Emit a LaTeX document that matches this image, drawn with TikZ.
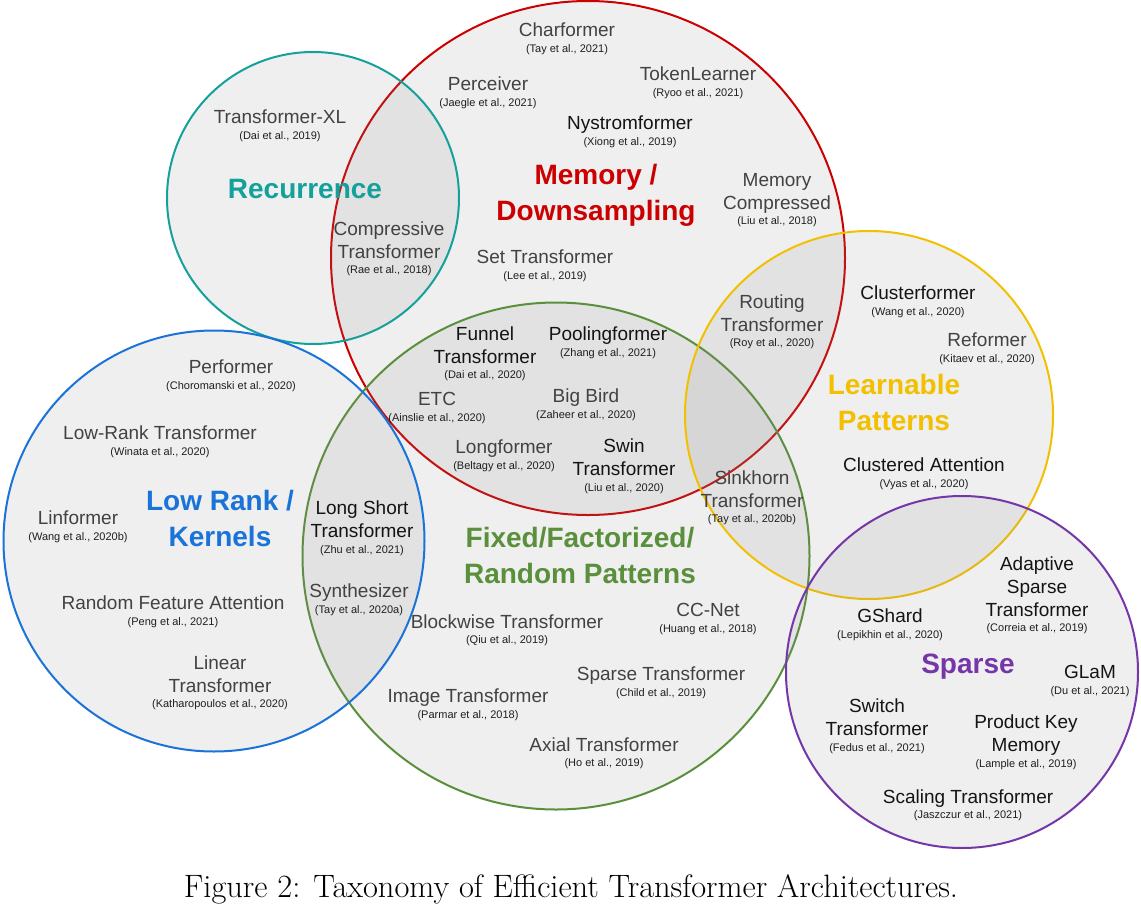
\documentclass[tikz,border=0pt]{standalone}
\usepackage{fontspec}
\newfontfamily\rob{Liberation Sans}
\newcommand{\citefont}{\fontsize{11}{13}\selectfont\color{black!88}}
\definecolor{shade}{RGB}{142,142,142}
\definecolor{recur}{HTML}{14A09B}
\definecolor{memory}{HTML}{CC0000}
\definecolor{lowrank}{HTML}{1A73D8}
\definecolor{fixed}{HTML}{5A8F3C}
\definecolor{learn}{HTML}{F2C000}
\definecolor{sparse}{HTML}{7436A8}

\begin{document}
\begin{tikzpicture}[x=1pt, y=-1pt,
	ring/.style={circle, inner sep=0pt, line width=2pt, fill=shade, fill opacity=0.133},
	paper/.style={align=center, inner sep=0pt, text=black!74, font=\rob\fontsize{19}{23}\selectfont},
	newer/.style={paper, text=black!92},
	catlabel/.style={align=center, inner sep=0pt, font=\rob\bfseries\fontsize{28}{36}\selectfont}]
	\fill[white] (0,0) rectangle (1141,910);
	\useasboundingbox (0,0) rectangle (1141,910);

	% the six families
	\node [ring, draw=memory, minimum size=514pt] (memory) at (588,258) {};
	\node [ring, draw=recur, minimum size=292pt] (recur) at (313,198) {};
	\node [ring, draw=fixed, minimum size=507pt] (fixed) at (556,556) {};
	\node [ring, draw=lowrank, minimum size=421pt] (lowrank) at (214,541) {};
	\node [ring, draw=learn, minimum size=368pt] (learn) at (869,415) {};
	\node [ring, draw=sparse, minimum size=352pt] (sparse) at (962,672) {};

	\node [catlabel, text=recur] (recur-l) at (305,189) {Recurrence};
	\node [catlabel, text=memory] (memory-l) at (596,195) {Memory /\\Downsampling};
	\node [catlabel, text=lowrank] (lowrank-l) at (220,518) {Low Rank /\\Kernels};
	\node [catlabel, text=fixed] (fixed-l) at (580,555) {Fixed/Factorized/\\Random Patterns};
	\node [catlabel, text=learn] (learn-l) at (894,402) {Learnable\\Patterns};
	\node [catlabel, text=sparse] (sparse-l) at (968,667) {Sparse};

	% recurrence / memory
	\node [paper] (xl) at (280,126) {Transformer-XL\\[-7.5pt]{\citefont (Dai et al., 2019)}};
	\node [paper] (compressive) at (389,249) {Compressive\\Transformer\\[-7.5pt]{\citefont (Rae et al., 2018)}};
	\node [paper] (charformer) at (567,39) {Charformer\\[-7.5pt]{\citefont (Tay et al., 2021)}};
	\node [paper] (perceiver) at (488,93) {Perceiver\\[-7.5pt]{\citefont (Jaegle et al., 2021)}};
	\node [paper] (tokenlearner) at (698,83) {TokenLearner\\[-7.5pt]{\citefont (Ryoo et al., 2021)}};
	\node [newer] (nystrom) at (630,132) {Nystromformer\\[-7.5pt]{\citefont (Xiong et al., 2019)}};
	\node [paper] (memcomp) at (777,200) {Memory\\Compressed\\[-7.5pt]{\citefont (Liu et al., 2018)}};
	\node [paper] (settrans) at (545,266) {Set Transformer\\[-7.5pt]{\citefont (Lee et al., 2019)}};
	\node [paper] (routing) at (772,322) {Routing\\Transformer\\[-7.5pt]{\citefont (Roy et al., 2020)}};

	% memory / fixed
	\node [newer] (funnel) at (485,354) {Funnel\\Transformer\\[-7.5pt]{\citefont (Dai et al., 2020)}};
	\node [newer] (pooling) at (608,343) {Poolingformer\\[-7.5pt]{\citefont (Zhang et al., 2021)}};
	\node [paper] (etc) at (437,408) {ETC\\[-7.5pt]{\citefont (Ainslie et al., 2020)}};
	\node [paper] (bigbird) at (586,405) {Big Bird\\[-7.5pt]{\citefont (Zaheer et al., 2020)}};
	\node [paper] (longformer) at (504,456) {Longformer\\[-7.5pt]{\citefont (Beltagy et al., 2020)}};
	\node [newer] (swin) at (624,466) {Swin\\Transformer\\[-7.5pt]{\citefont (Liu et al., 2020)}};
	\node [paper] (sinkhorn) at (752,498) {Sinkhorn\\Transformer\\[-7.5pt]{\citefont (Tay et al., 2020b)}};

	% learnable
	\node [newer] (clusterformer) at (918,302) {Clusterformer\\[-7.5pt]{\citefont (Wang et al., 2020)}};
	\node [paper] (reformer) at (987,349) {Reformer\\[-7.5pt]{\citefont (Kitaev et al., 2020)}};
	\node [newer] (clustered) at (924,474) {Clustered Attention\\[-7.5pt]{\citefont (Vyas et al., 2020)}};

	% low rank / kernels
	\node [paper] (performer) at (231,376) {Performer\\[-7.5pt]{\citefont (Choromanski et al., 2020)}};
	\node [paper] (lowranktr) at (160,442) {Low-Rank Transformer\\[-7.5pt]{\citefont (Winata et al., 2020)}};
	\node [paper] (linformer) at (78,527) {Linformer\\[-7.5pt]{\citefont (Wang et al., 2020b)}};
	\node [paper] (rfa) at (173,612) {Random Feature Attention\\[-7.5pt]{\citefont (Peng et al., 2021)}};
	\node [paper] (linear) at (220,683) {Linear\\Transformer\\[-7.5pt]{\citefont (Katharopoulos et al., 2020)}};
	\node [newer] (longshort) at (362,528) {Long Short\\Transformer\\[-7.5pt]{\citefont (Zhu et al., 2021)}};
	\node [paper] (synth) at (359,600) {Synthesizer\\[-7.5pt]{\citefont (Tay et al., 2020a)}};

	% fixed / factorized
	\node [paper] (blockwise) at (507,630) {Blockwise Transformer\\[-7.5pt]{\citefont (Qiu et al., 2019)}};
	\node [paper] (ccnet) at (708,619) {CC-Net\\[-7.5pt]{\citefont (Huang et al., 2018)}};
	\node [paper] (sparsetr) at (661,683) {Sparse Transformer\\[-7.5pt]{\citefont (Child et al., 2019)}};
	\node [paper] (image) at (468,705) {Image Transformer\\[-7.5pt]{\citefont (Parmar et al., 2018)}};
	\node [paper] (axial) at (604,753) {Axial Transformer\\[-7.5pt]{\citefont (Ho et al., 2019)}};

	% sparse
	\node [newer] (gshard) at (890,625) {GShard\\[-7.5pt]{\citefont (Lepikhin et al., 2020)}};
	\node [newer] (adaptive) at (1037,595) {Adaptive\\Sparse\\Transformer\\[-7.5pt]{\citefont (Correia et al., 2019)}};
	\node [newer] (glam) at (1090,681) {GLaM\\[-7.5pt]{\citefont (Du et al., 2021)}};
	\node [newer] (switch) at (877,726) {Switch\\Transformer\\[-7.5pt]{\citefont (Fedus et al., 2021)}};
	\node [newer] (pkm) at (1026,742) {Product Key\\Memory\\[-7.5pt]{\citefont (Lample et al., 2019)}};
	\node [newer] (scaling) at (968,805) {Scaling Transformer\\[-7.5pt]{\citefont (Jaszczur et al., 2021)}};

	\node [font=\fontsize{32.4}{38}\selectfont, inner sep=0pt] (caption) at (571,889) {Figure 2: Taxonomy of Efficient Transformer Architectures.};
\end{tikzpicture}
\end{document}
